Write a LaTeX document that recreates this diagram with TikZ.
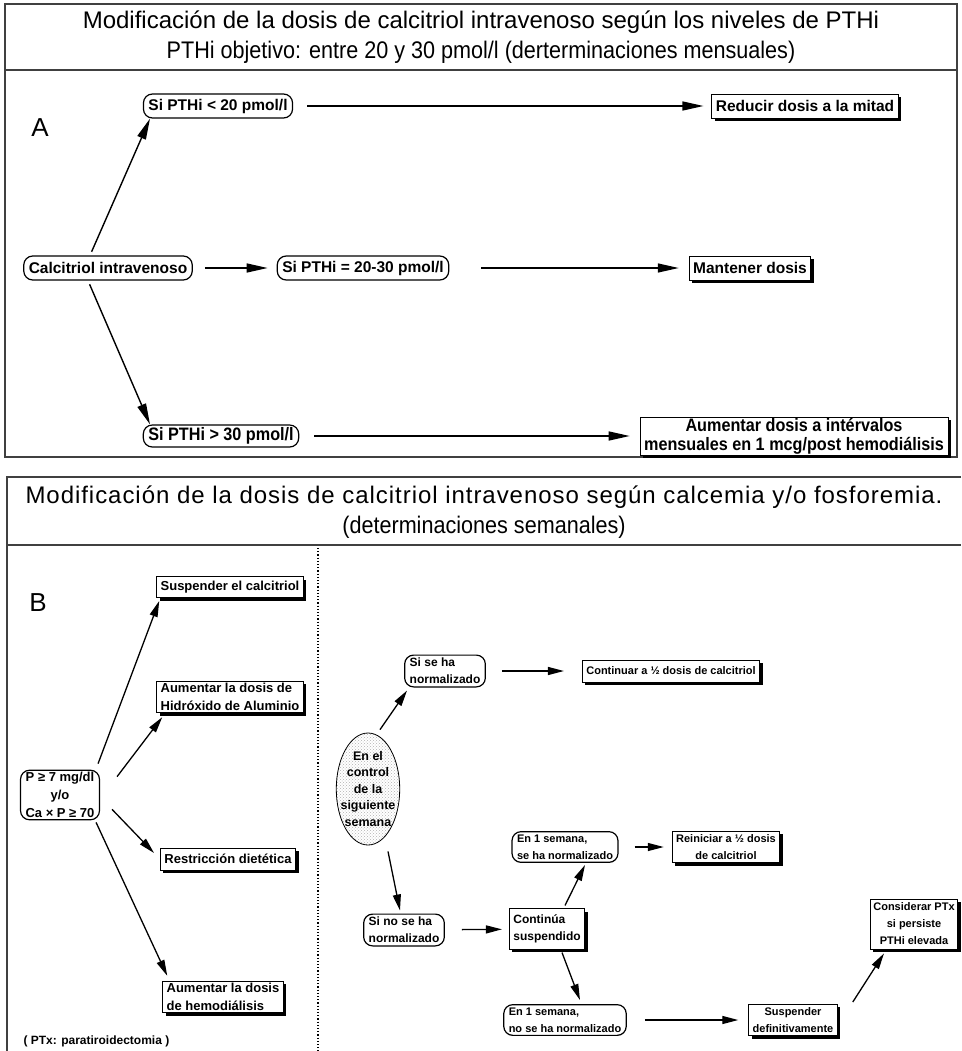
\documentclass[tikz,border=0pt]{standalone}
\usepackage{fontspec}
\setmainfont{Liberation Sans}
\newfontfamily\titlefont[FakeStretch=0.9]{Liberation Sans}
\newfontfamily\titlewide[LetterSpace=4]{Liberation Sans}
\newfontfamily\condfont[FakeStretch=0.9]{Liberation Sans}
\usetikzlibrary{arrows.meta,shadows,patterns,shapes.geometric}
\begin{document}
\begin{tikzpicture}[x=1pt,y=-1pt,
  frame/.style={draw=black!75, line width=1.3pt},
  fA/.style={font=\bfseries\fontsize{15.5}{19}\selectfont},
  fC/.style={font=\condfont\bfseries\fontsize{18}{19}\selectfont},
  fL/.style={font=\bfseries\fontsize{13}{18}\selectfont},
  fB/.style={font=\bfseries\fontsize{11}{17}\selectfont},
  fM/.style={font=\bfseries\fontsize{12}{17}\selectfont},
  rbox/.style={draw, line width=1.2pt, rounded corners=9pt, fill=white, inner xsep=5pt, inner ysep=3pt, minimum height=24pt},
  sbox/.style={draw, line width=0.8pt, fill=white, inner xsep=4pt, inner ysep=3pt, minimum height=24pt,
    drop shadow={shadow xshift=3pt, shadow yshift=-3pt, fill=black, opacity=1}},
  arr/.style={-{Triangle[length=21pt,width=9pt]}, line width=1.4pt},
  arrB/.style={-{Triangle[length=16pt,width=8pt]}, line width=1.3pt},
]
\useasboundingbox (0,0) rectangle (961,1051);

% ---------- Panel A ----------
\draw[frame] (5,4) rectangle (957,457);
\draw[frame] (5,70) -- (957,70);
\node[align=center, font=\fontsize{24}{30}\selectfont] (titleA) at (481,37)
  {Modificación de la dosis de calcitriol intravenoso según los niveles de PTHi\\
   {\titlefont PTHi objetivo: entre 20 y 30 pmol/l (derterminaciones mensuales)}};
\node[font=\fontsize{26}{30}\selectfont] (labA) at (40,128) {A};

\node[rbox, fA] (lt20) at (218,106) {Si PTHi < 20 pmol/l};
\node[sbox, fA] (red) at (805,106) {Reducir dosis a la mitad};
\node[rbox, fA] (calc) at (108,268) {Calcitriol intravenoso};
\node[rbox, fA] (eq) at (363,268) {Si PTHi = 20-30 pmol/l};
\node[sbox, fA] (mant) at (750,268) {Mantener dosis};
\node[rbox, fC, inner ysep=1pt, minimum height=22pt] (gt30) at (221,436) {Si PTHi > 30 pmol/l};
\node[sbox, align=center, fC, inner ysep=1pt] (aum) at (794,436)
  {Aumentar dosis a intérvalos\\mensuales en 1 mcg/post hemodiálisis};

\draw[arr, shorten <=14pt, shorten >=8pt] (lt20) -- (red);
\draw[arr, shorten <=12pt, shorten >=9pt] (calc) -- (eq);
\draw[arr, shorten <=32pt, shorten >=10pt] (eq) -- (mant);
\draw[arr, shorten <=15pt, shorten >=10pt] (gt30) -- (aum);
\draw[arr, shorten <=4pt] ([xshift=-18pt]calc.north) -- ([xshift=-68pt]lt20.south);
\draw[arr, shorten <=4pt] ([xshift=-20pt]calc.south) -- ([xshift=-71pt]gt30.north);

% ---------- Panel B ----------
\draw[frame] (961,477) -- (7,477) -- (7,1051);
\draw[frame] (7,545) -- (961,545);
\node[align=center, font=\fontsize{24}{30}\selectfont] (titleB) at (484,512)
  {{\titlewide Modificación de la dosis de calcitriol intravenoso según calcemia y/o fosforemia.}\\
   {\titlefont (determinaciones semanales)}};
\node[font=\fontsize{26}{30}\selectfont] (labB) at (38,603) {B};
\draw[line width=1.2pt, dotted] (318,548) -- (318,1051);

\node[sbox, fL, minimum height=21pt, inner ysep=1pt] (susp) at (230,587) {Suspender el calcitriol};
\node[sbox, fL, align=left, inner ysep=2pt] (alu) at (230,697) {Aumentar la dosis de\\Hidróxido de Aluminio};
\node[rbox, fL, align=center, inner ysep=2pt, inner xsep=5pt] (p7) at (60,795) {P ≥ 7 mg/dl\\y/o\\Ca × P ≥ 70};
\node[sbox, fL, minimum height=22pt, inner ysep=1pt] (diet) at (228,859) {Restricción dietética};
\node[sbox, fL, align=left, inner ysep=2pt] (hemo) at (223,997) {Aumentar la dosis\\de hemodiálisis};
\node[anchor=west, font=\bfseries\fontsize{12}{13}\selectfont] (ptx) at (20,1041) {( PTx: paratiroidectomia )};

\draw[arrB] ([shift={(-2,-6)}]p7.north east) -- ([shift={(3,3)}]susp.south west);
\draw[arrB] ([shift={(17,7)}]p7.north east) -- ([shift={(6,4)}]alu.south west);
\draw[arrB] ([shift={(12,-11)}]p7.south east) -- ([shift={(-6,-6)}]diet.west);
\draw[arrB] ([shift={(-4,2)}]p7.south east) -- ([shift={(5,-5)}]hemo.north west);

\node[ellipse, draw, line width=0.8pt, preaction={fill=white}, pattern=crosshatch dots, pattern color=black!30,
  minimum height=112pt, inner xsep=-5pt, inner ysep=0pt, align=center, font=\bfseries\fontsize{12.5}{16.5}\selectfont]
  (ctrl) at (368,789) {En el\\control\\de la\\siguiente\\semana};
\node[rbox, fM, align=left, inner ysep=3pt] (sn) at (445,671) {Si se ha\\normalizado};
\node[sbox, fB, minimum height=22pt, inner ysep=1pt] (cont) at (671,671) {Continuar a ½ dosis de calcitriol};
\node[rbox, fM, align=left, inner ysep=3pt] (nn) at (404,930) {Si no se ha\\normalizado};
\node[sbox, fM, align=left, inner ysep=6pt] (cs) at (547,929) {Continúa\\suspendido};
\node[rbox, fB, align=left, inner ysep=3pt] (s1) at (565,847) {En 1 semana,\\se ha normalizado};
\node[sbox, fB, align=center, inner ysep=3pt] (rein) at (726,847) {Reiniciar a ½ dosis\\de calcitriol};
\node[rbox, fB, align=left, inner ysep=3pt] (n1) at (565,1020) {En 1 semana,\\no se ha normalizado};
\node[sbox, fB, align=center, inner ysep=3pt] (def) at (793,1020) {Suspender\\definitivamente};
\node[sbox, fB, align=center, inner ysep=4pt, inner xsep=3pt] (cptx) at (914,924) {Considerar PTx\\si persiste\\PTHi elevada};

\draw[arrB] ([shift={(12,-3)}]ctrl.north) -- ([shift={(3,3)}]sn.south west);
\draw[arrB, shorten <=16pt, shorten >=18pt] (sn) -- (cont);
\draw[arrB] ([shift={(20,6)}]ctrl.south) -- ([shift={(-4,-3)}]nn.north);
\draw[arrB, shorten <=17pt, shorten >=7pt] (nn) -- (cs);
\draw[arrB] ([shift={(18,-3)}]cs.north) -- ([shift={(20,2)}]s1.south);
\draw[arrB] ([shift={(15,3)}]cs.south) -- ([shift={(15,-4)}]n1.north);
\draw[arrB, shorten <=16pt, shorten >=8pt] (s1) -- (rein);
\draw[arrB, shorten <=18pt, shorten >=10pt] (n1) -- (def);
\draw[arrB] ([shift={(15,-2)}]def.north east) -- ([shift={(14,4)}]cptx.south west);
\end{tikzpicture}
\end{document}
